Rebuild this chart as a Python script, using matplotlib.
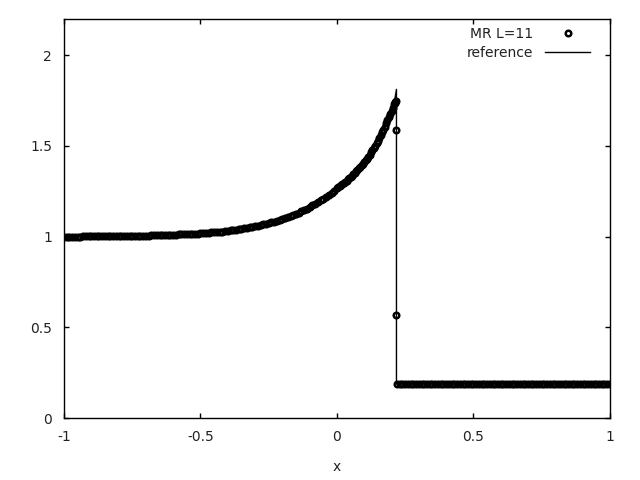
import numpy as np
import matplotlib
matplotlib.use("Agg")
import matplotlib.pyplot as plt

plt.rcParams['font.family'] = ['DejaVu Sans']

# MR L=11 sample points, flat/slow part of the left state (x = -1.00 .. -0.01)
mr_x_flat = np.round(np.arange(-1.00, -0.0099, 0.01), 3)
mr_y_flat = [
    1.000, 1.000, 1.000, 1.000, 1.000, 1.000, 1.000, 1.001, 1.001, 1.001,
    1.001, 1.001, 1.001, 1.002, 1.002, 1.002, 1.002, 1.002, 1.003, 1.003,
    1.003, 1.003, 1.003, 1.004, 1.004, 1.004, 1.005, 1.005, 1.005, 1.006,
    1.006, 1.006, 1.007, 1.007, 1.008, 1.008, 1.008, 1.009, 1.009, 1.010,
    1.010, 1.011, 1.012, 1.012, 1.013, 1.014, 1.015, 1.015, 1.016, 1.017,
    1.018, 1.019, 1.020, 1.021, 1.023, 1.024, 1.025, 1.027, 1.028, 1.030,
    1.032, 1.034, 1.036, 1.038, 1.040, 1.043, 1.045, 1.048, 1.051, 1.054,
    1.057, 1.060, 1.063, 1.067, 1.070, 1.074, 1.078, 1.083, 1.087, 1.092,
    1.097, 1.102, 1.108, 1.114, 1.120, 1.126, 1.133, 1.140, 1.147, 1.155,
    1.163, 1.172, 1.181, 1.190, 1.200, 1.210, 1.221, 1.232, 1.243, 1.254,
]
# steep part before the shock (x = 0.000 .. 0.210, denser sampling)
mr_x_steep = np.round(np.arange(0.0, 0.2101, 0.005), 4)
mr_y_steep = [
    1.266, 1.272, 1.278, 1.284, 1.290, 1.296, 1.303, 1.309, 1.316, 1.323,
    1.330, 1.337, 1.345, 1.352, 1.360, 1.368, 1.376, 1.384, 1.393, 1.401,
    1.410, 1.420, 1.430, 1.441, 1.452, 1.464, 1.476, 1.489, 1.502, 1.516,
    1.530, 1.545, 1.560, 1.575, 1.590, 1.607, 1.624, 1.642, 1.660, 1.677,
    1.695, 1.712, 1.730,
]
# points inside the shock
mr_x_shock = [0.212, 0.214, 0.216, 0.218, 0.218]
mr_y_shock = [1.738, 1.744, 1.750, 1.586, 0.569]
# right state
mr_x_right = np.round(np.arange(0.22, 1.0001, 0.01), 3)
mr_y_right = [
    0.188, 0.188, 0.188, 0.188, 0.188, 0.188, 0.188, 0.188, 0.188, 0.188,
    0.188, 0.188, 0.188, 0.188, 0.188, 0.188, 0.188, 0.188, 0.188, 0.188,
    0.188, 0.188, 0.188, 0.188, 0.188, 0.188, 0.188, 0.188, 0.188, 0.188,
    0.188, 0.188, 0.188, 0.188, 0.188, 0.188, 0.188, 0.188, 0.188, 0.188,
    0.188, 0.188, 0.188, 0.188, 0.188, 0.188, 0.188, 0.188, 0.188, 0.188,
    0.188, 0.188, 0.188, 0.188, 0.188, 0.188, 0.188, 0.188, 0.188, 0.188,
    0.188, 0.188, 0.188, 0.188, 0.188, 0.188, 0.188, 0.188, 0.188, 0.188,
    0.188, 0.188, 0.188, 0.188, 0.188, 0.188, 0.188, 0.188, 0.188,
]

# reference solution
ref_x = [-1.0, -0.9, -0.8, -0.7, -0.6, -0.5, -0.4, -0.3, -0.2, -0.1, 0.0,
         0.05, 0.10, 0.15, 0.17, 0.19, 0.20, 0.21, 0.218, 0.218, 1.0]
ref_y = [1.000, 1.001, 1.003, 1.006, 1.010, 1.018, 1.032, 1.057, 1.097,
         1.163, 1.266, 1.330, 1.410, 1.530, 1.590, 1.660, 1.695, 1.740,
         1.812, 0.188, 0.188]

x_ticks = [-1, -0.5, 0, 0.5, 1]
x_tick_labels = ["-1", "-0.5", "0", "0.5", "1"]
y_ticks = [0, 0.5, 1, 1.5, 2]
y_tick_labels = ["0", "0.5", "1", "1.5", "2"]

mr_x = np.concatenate([mr_x_flat, mr_x_steep, mr_x_shock, mr_x_right])
mr_y = np.concatenate([mr_y_flat, mr_y_steep, mr_y_shock, mr_y_right])

fig = plt.figure(figsize=(6.4, 4.8), dpi=100)
ax = fig.add_axes([0.1, 1 - 418 / 480, 0.853, (418 - 19) / 480])

ax.plot(mr_x, mr_y, linestyle='none', marker='o', markersize=4.0,
        markerfacecolor='none', markeredgecolor='black', markeredgewidth=1.8,
        label='MR L=11')
ax.plot(ref_x, ref_y, color='black', linewidth=1.0, label='reference')

ax.set_xlim(-1, 1)
ax.set_ylim(0, 2.2)
ax.set_xticks(x_ticks)
ax.set_xticklabels(x_tick_labels)
ax.set_yticks(y_ticks)
ax.set_yticklabels(y_tick_labels)
ax.tick_params(direction='in', top=True, right=True, length=3.5, width=1,
               labelsize=10, pad=8.5, labelcolor='#222222')
for s in ax.spines.values():
    s.set_linewidth(1)
ax.set_xlabel('x', fontsize=10, labelpad=12, color='#222222')

leg = ax.legend(loc='upper right', bbox_to_anchor=(0.941, 0.970),
                bbox_transform=fig.transFigure, frameon=False,
                markerfirst=False, numpoints=1, fontsize=10,
                handlelength=3.2, handletextpad=0.9, labelspacing=0.35)
for t in leg.get_texts():
    t.set_ha('right')
    t.set_color('#222222')

fig.savefig('out.png', dpi=100)
